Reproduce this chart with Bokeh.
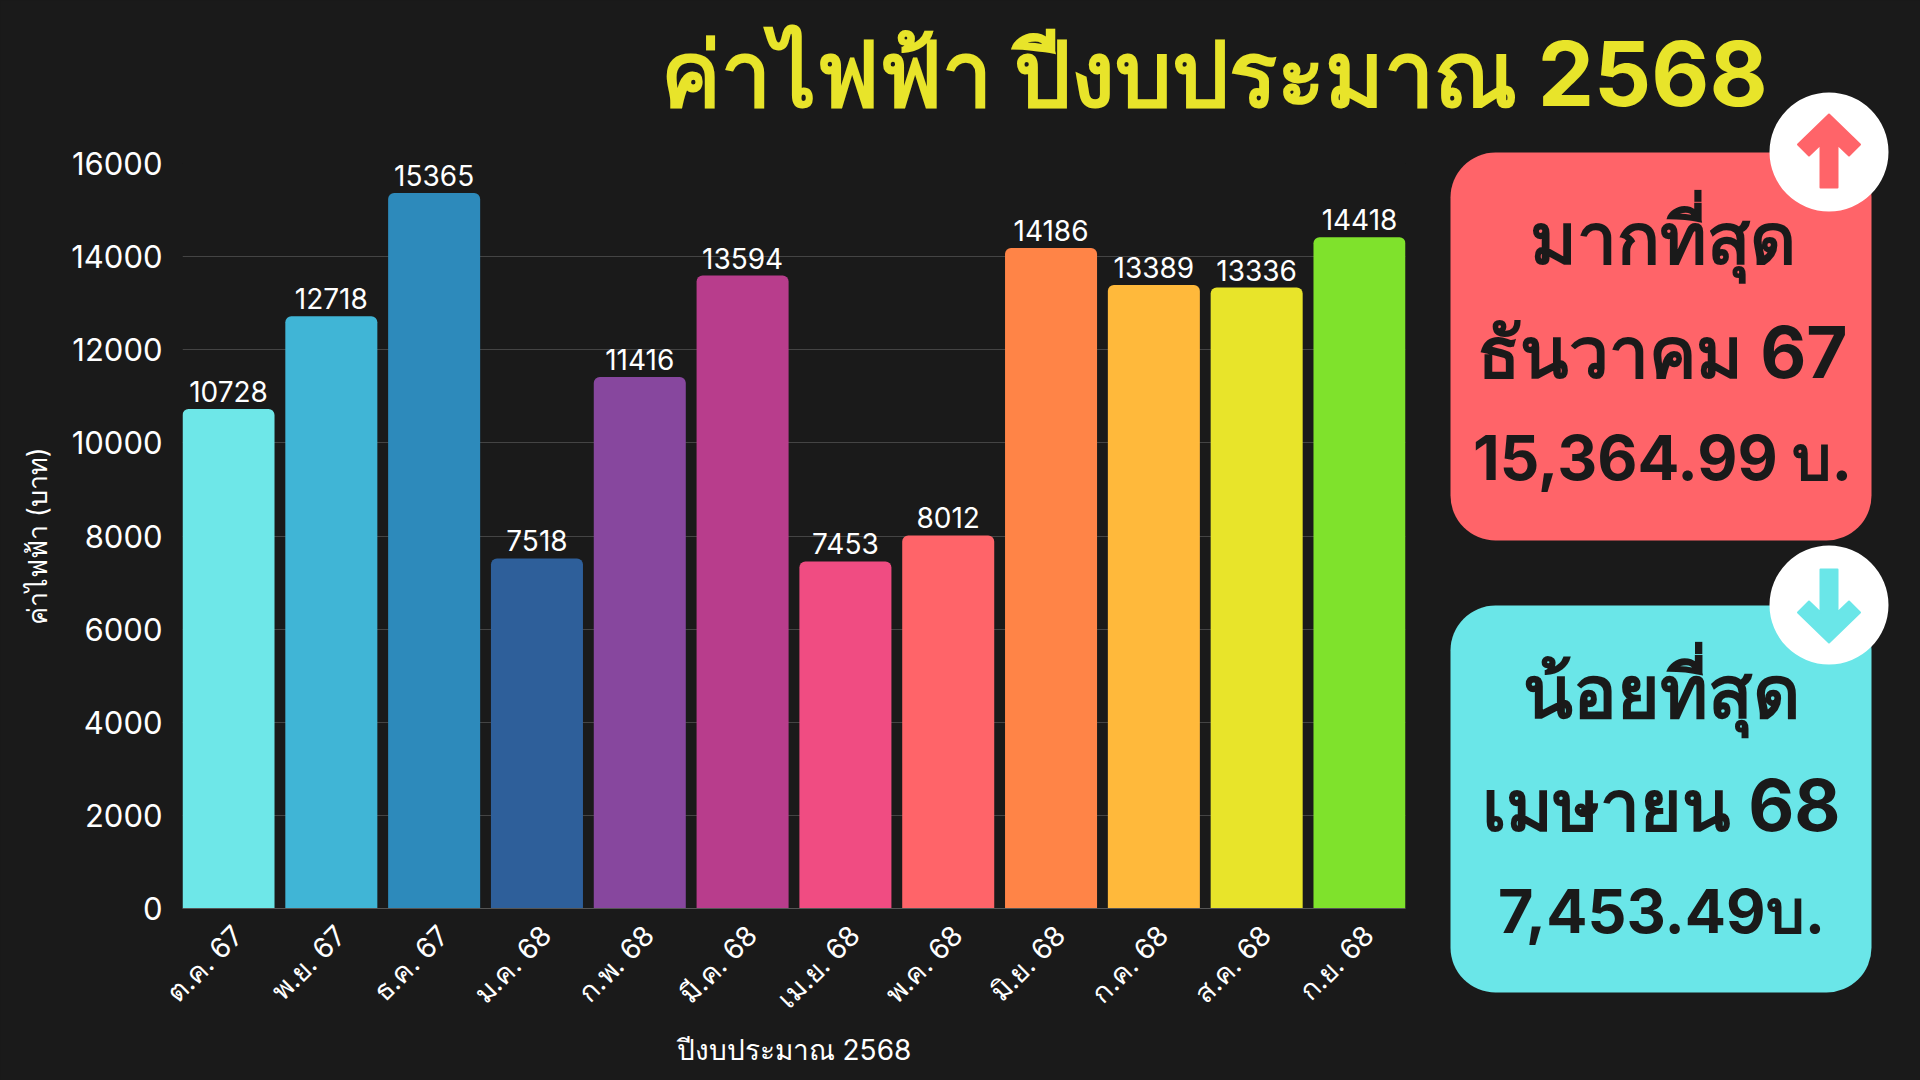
from math import pi
from bokeh.core.properties import value
from bokeh.embed import file_html
from bokeh.resources import INLINE
from bokeh.models import Range1d, FixedTicker, ColumnDataSource, LabelSet
from bokeh.plotting import figure

months = ["ต.ค. 67","พ.ย. 67","ธ.ค. 67","ม.ค. 68","ก.พ. 68","มี.ค. 68","เม.ย. 68","พ.ค. 68","มิ.ย. 68","ก.ค. 68","ส.ค. 68","ก.ย. 68"]
costs = [10728,12718,15365,7518,11416,13594,7453,8012,14186,13389,13336,14418]
colors = ["#6EE7E8","#40B5D6","#2D8ABB","#2E5F9A","#87479E","#B83D8C","#F04C82","#FF6469","#FF8447","#FFB93B","#E8E42A","#7FE22C"]
y_ticks = [0,2000,4000,6000,8000,10000,12000,14000,16000]
title = "ค่าไฟฟ้า ปีงบประมาณ 2568"
x_title = "ปีงบประมาณ 2568"
y_title = "ค่าไฟฟ้า (บาท)"
hi = ["มากที่สุด","ธันวาคม 67","15,364.99 บ."]
lo = ["น้อยที่สุด","เมษายน 68","7,453.49บ."]

BG = "#1A1A1A"
FONT = "Inter"
W, H = 1920, 1080

idx = list(range(len(months)))
src = ColumnDataSource(dict(x=idx, top=costs, color=colors, label=[str(v) for v in costs]))

p = figure(width=W, height=H, output_backend="svg", toolbar_location=None,
           x_range=Range1d(-0.4475, 11.4475), y_range=Range1d(0, 16000),
           background_fill_color=BG, border_fill_color=BG, outline_line_color=None,
           min_border_left=182, min_border_right=515, min_border_top=163, min_border_bottom=172)

p.vbar(x="x", top="top", width=0.895, color="color", source=src, line_color=None, border_radius=(6, 6, 0, 0))
p.add_layout(LabelSet(x="x", y="top", text="label", source=src, text_color="white", text_font=value(FONT),
                      text_font_size="28px", text_align="center", text_baseline="bottom", y_offset=7))

# tick labels sit slightly right of the bar centre in the reference
tick_pos = [i + 0.09 for i in idx]
p.xgrid.visible = False
p.ygrid.grid_line_color = "#444444"
p.ygrid.grid_line_width = 1
p.ygrid.level = "underlay"
p.xaxis.ticker = FixedTicker(ticks=tick_pos)
p.xaxis.major_label_overrides = dict(zip(tick_pos, months))
p.xaxis.major_label_orientation = pi / 4
p.yaxis.ticker = FixedTicker(ticks=y_ticks)
for ax in (p.xaxis, p.yaxis):
    ax.major_label_text_color = "white"
    ax.major_label_text_font = FONT
    ax.major_label_text_font_size = "28px"
    ax.axis_label_text_color = "white"
    ax.axis_label_text_font = FONT
    ax.axis_label_text_font_size = "28px"
    ax.axis_label_text_font_style = "normal"
    ax.major_tick_line_color = None
    ax.minor_tick_line_color = None
p.yaxis.major_label_text_font_size = "31px"
p.yaxis.axis_label_text_font_size = "27px"
p.yaxis.axis_line_color = None
p.xaxis.axis_line_color = "#555555"
p.xaxis.axis_label = x_title
p.yaxis.axis_label = y_title
p.yaxis.major_label_standoff = 14
p.xaxis.major_label_standoff = 16
p.yaxis.axis_label_standoff = 14
p.xaxis.axis_label_standoff = 3

# Transparent full-page layer for the title and the two call-out panels
q = figure(width=W, height=H, output_backend="svg", toolbar_location=None,
           x_range=Range1d(0, W), y_range=Range1d(H, 0), x_axis_type=None, y_axis_type=None,
           background_fill_color=None, border_fill_color=None, outline_line_color=None,
           min_border=0, min_border_left=0, min_border_right=0, min_border_top=0, min_border_bottom=0)
q.grid.visible = False
q.styles = {"position": "absolute", "left": "0", "top": "0"}


def text(s, x, y, size, color):
    q.text(x=[x], y=[y], text=[s], text_color=color, text_font=value(FONT), text_font_size=f"{size}px",
           text_font_style="bold", text_align="center", text_baseline="middle")


RED, CYAN = "#FF6469", "#6AE6E8"
text(title, 1214, 73, 89.5, "#E8E42A")
q.quad(left=[1450], right=[1871], top=[152], bottom=[540], color=RED, line_color=None, border_radius=45)
q.quad(left=[1450], right=[1871], top=[605], bottom=[992], color=CYAN, line_color=None, border_radius=45)
q.quad(left=[1769], right=[1888], top=[92], bottom=[211], color="white", line_color=None, border_radius=60)
q.quad(left=[1769], right=[1888], top=[545], bottom=[664], color="white", line_color=None, border_radius=60)
cx = 1828.5
q.patch([cx, cx+31, cx+20, cx+8.5, cx+8.5, cx-8.5, cx-8.5, cx-20, cx-31], [114, 144, 155, 144, 187, 187, 144, 155, 144],
        color=RED, line_width=2, line_join="round")
q.patch([cx, cx+31, cx+20, cx+8.5, cx+8.5, cx-8.5, cx-8.5, cx-20, cx-31], [642, 612, 601, 612, 569, 569, 612, 601, 612],
        color=CYAN, line_width=2, line_join="round")
for s, y, size in zip(hi, (237, 351, 457), (71, 71, 62)):
    text(s, 1662, y, size, BG)
for s, y, size in zip(lo, (691, 804, 910), (73, 71, 61)):
    text(s, 1661, y, size, BG)

html = file_html([p, q], INLINE)
html = html.replace("</head>", f"<style>html,body{{background:{BG};}}</style></head>", 1)
open("out.html", "w").write(html)
